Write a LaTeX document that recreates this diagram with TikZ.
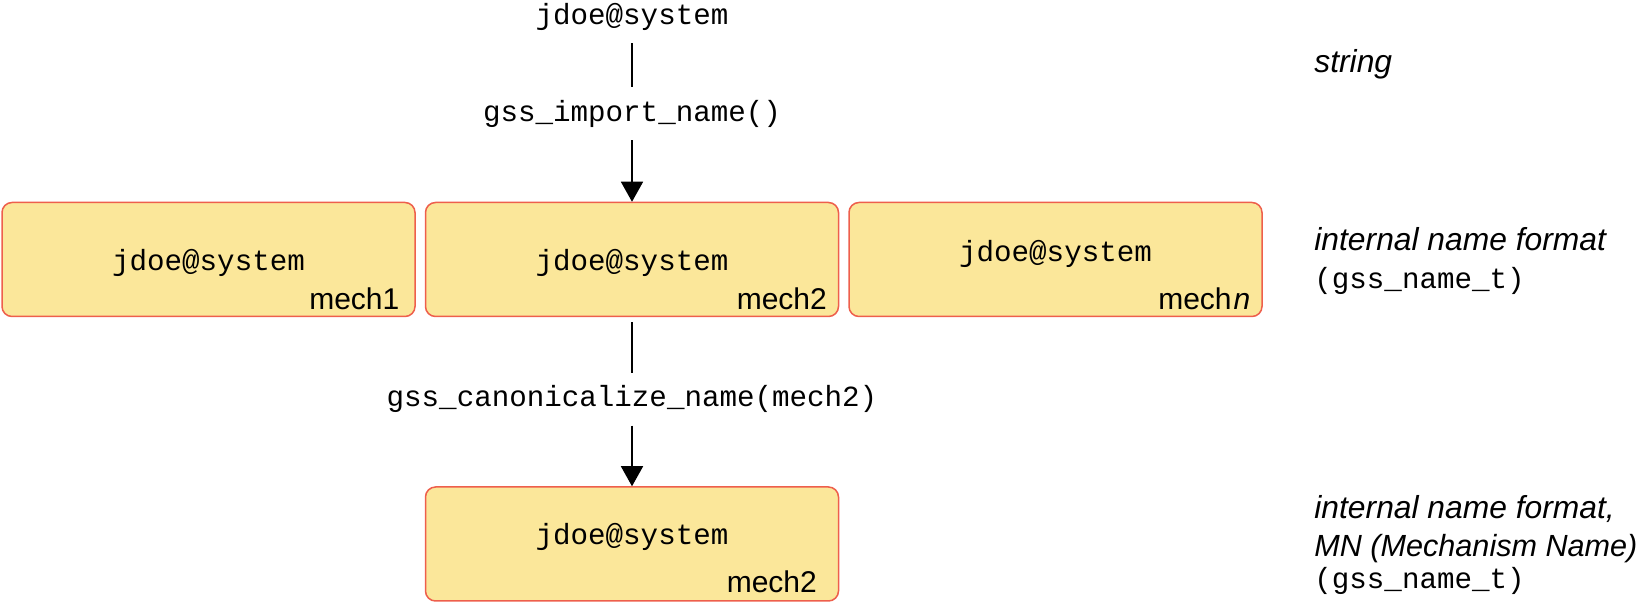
\documentclass[tikz,border=0pt]{standalone}
\usepackage{fontspec}
\setmainfont{Liberation Sans}
\setmonofont{Liberation Mono}
\usetikzlibrary{positioning,arrows.meta}
\definecolor{boxfill}{HTML}{FBE79A}
\definecolor{boxline}{HTML}{EE5F4C}
\newcommand{\lift}[2]{\raisebox{#1}[\height][\depth]{#2}}

\begin{document}
\begin{tikzpicture}[x=0.5pt, y=-0.5pt,
  namebox/.style={draw=boxline, fill=boxfill, line width=0.75pt, rounded corners=5pt, minimum width=206.5pt, minimum height=57pt, inner sep=0pt, font=\ttfamily\fontsize{14.6}{17}\selectfont},
  mechlab/.style={anchor=base east, inner sep=0pt, font=\fontsize{15}{17}\selectfont},
  call/.style={font=\ttfamily\fontsize{14.6}{17}\selectfont, minimum height=26pt, inner sep=0pt},
  side/.style={anchor=base west, inner sep=0pt, font=\itshape\fontsize{15.9}{19}\selectfont},
  sidett/.style={anchor=base west, inner sep=0pt, font=\ttfamily\fontsize{14.6}{17}\selectfont},
  arrow/.style={-{Triangle[width=11pt,length=10pt]}, line width=0.75pt},
  link/.style={line width=0.75pt}
]
\useasboundingbox (0,0) rectangle (1645,603);

% Row of mechanism-specific names
\node[namebox] (mone) at (208.5,259.5) {\lift{-1.5pt}{jdoe@system}};
\node[namebox, right=4.5pt of mone] (mtwo) {\lift{-1.5pt}{jdoe@system}};
\node[namebox, right=4.5pt of mtwo] (mn) {\lift{2.75pt}{jdoe@system}};
\node[mechlab] at ([xshift=-8pt,yshift=4pt]mone.south east) {mech1};
\node[mechlab] at ([xshift=-6pt,yshift=4pt]mtwo.south east) {mech2};
\node[mechlab] at ([xshift=-6pt,yshift=4pt]mn.south east) {mech\kern1pt\textit{n}};

% Mechanism name
\node[namebox, below=84.5pt of mtwo] (canon) {\lift{3.5pt}{jdoe@system}};
\node[mechlab] at ([xshift=-11pt,yshift=4.5pt]canon.south east) {mech2};

% Calls
\node[call] (user) at ([yshift=92.5pt]mtwo.north) {jdoe@system};
\node[call] (import) at ([yshift=44pt]mtwo.north) {gss\_import\_name()};
\node[call] (canoncall) at ([yshift=-41pt]mtwo.south) {gss\_canonicalize\_name(mech2)};

\draw[link] (user) -- (import);
\draw[arrow] (import) -- (mtwo);
\draw[link, shorten <=2.5pt] (mtwo) -- (canoncall);
\draw[arrow] (canoncall) -- (canon);

% Side labels
\node[side] (strlab) at (1314,73) {string};
\node[side] (fmtlab) at (1314,251) {internal name format};
\node[sidett] (fmttype) at (1314,289) {(gss\_name\_t)};
\node[side] (mnlab) at (1314,519) {internal name format,};
\node[side, font=\itshape\fontsize{15.3}{19}\selectfont] (mnlabb) at (1314,557) {MN (Mechanism Name)};
\node[sidett] (mntype) at (1314,589) {(gss\_name\_t)};
\end{tikzpicture}
\end{document}
